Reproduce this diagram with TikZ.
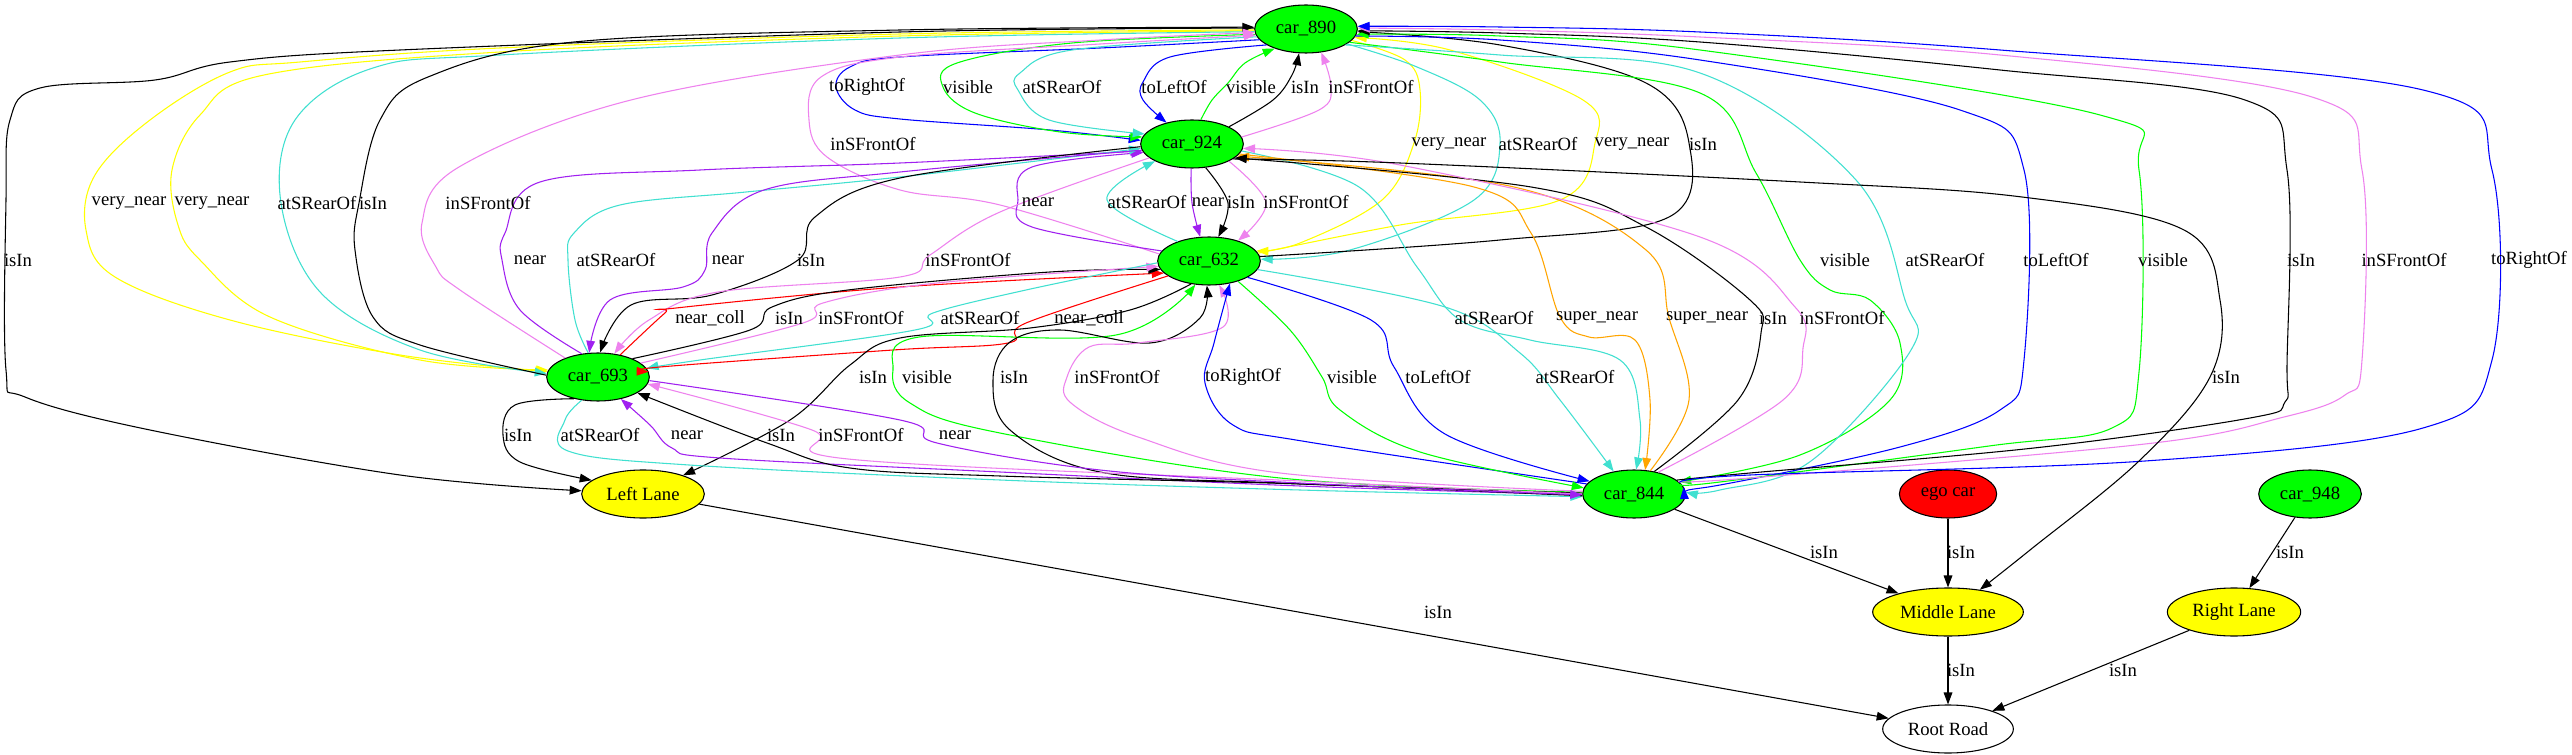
\documentclass[tikz,border=0pt]{standalone}
\usepackage{fontspec}
\setmainfont{Liberation Serif}
\usetikzlibrary{shapes.geometric,arrows.meta}
\definecolor{gvgreen}{HTML}{00FF00}
\definecolor{gvyellow}{HTML}{FFFF00}
\definecolor{gvred}{HTML}{FF0000}
\definecolor{gvviolet}{HTML}{EE82EE}
\definecolor{gvpurple}{HTML}{A020F0}
\definecolor{gvturq}{HTML}{40E0D0}
\definecolor{gvorange}{HTML}{FFA500}
\definecolor{gvblue}{HTML}{0000FF}
\newcommand\gvedge[2]{\draw[ed,#1] plot[smooth,tension=0.6] coordinates {#2};}
\begin{document}
\begin{tikzpicture}[x=0.75pt,y=-0.75pt,
  nd/.style={ellipse,draw=black,line width=0.8pt,inner sep=0pt,minimum height=36pt,font=\fontsize{14}{16}\selectfont},
  car/.style={nd,fill=gvgreen,minimum width=77pt},
  lane/.style={nd,fill=gvyellow},
  lbl/.style={inner sep=0pt,font=\fontsize{14}{16}\selectfont},
  ed/.style={line width=0.8pt,-{Triangle[length=9pt,width=6.5pt]}},
]
\fill[white] (0,0) rectangle (2572,755);
\useasboundingbox (0,0) rectangle (2572,755);

% nodes
\node[car] (n890) at (1306,29) {car\_890};
\node[car] (n924) at (1192,144) {car\_924};
\node[car] (n632) at (1209,261) {car\_632};
\node[car] (n693) at (598,377) {car\_693};
\node[lane,minimum width=92pt] (nLL) at (643,494) {Left Lane};
\node[car] (n844) at (1634,494) {car\_844};
\node[nd,fill=gvred,minimum width=73pt] (nego) at (1948,494) {ego car};
\node[car] (n948) at (2310,494) {car\_948};
\node[lane,minimum width=113pt] (nML) at (1948,612) {Middle Lane};
\node[lane,minimum width=100pt] (nRL) at (2234,612) {Right Lane};
\node[nd,fill=white,minimum width=98pt] (nRR) at (1948,729) {Root Road};

% 890 <-> 924
\gvedge{gvblue}{(n890.193) (1100,48) (900,57) (850,67) (836,87) (855,110) (900,119) (1050,130) (n924.176)}
\gvedge{gvgreen}{(n890.186) (1072,43) (957,63) (943,87) (975,113) (1060,132) (n924.172)}
\gvedge{gvturq}{(n890.189) (1072,50) (1020,73) (1018,90) (1049,120) (n924.168)}
\gvedge{gvblue}{(n890.202) (1170,57) (1143,82) (1143,100) (n924.140)}
\gvedge{gvgreen}{(n924.70) (1212,100) (1228,83) (1245,63) (n890.212)}
\gvedge{black}{(n924.25) (1273,100) (1292,75) (n890.254)}
\gvedge{gvviolet}{(n924.8) (1319,110) (1331,87) (n890.303)}

% 890 <-> 693
\gvedge{gvyellow}{(n890.181) (900,34) (500,48) (300,62) (230,72) (150,120) (95,175) (86,230) (115,277) (230,320) (400,355) (n693.174)}
\gvedge{gvyellow}{(n890.182) (900,36) (500,52) (264,75) (200,115) (172,170) (178,225) (200,260) (270,317) (420,360) (n693.172)}
\gvedge{gvturq}{(n890.183) (900,38) (500,55) (373,68) (295,120) (281,203) (321,293) (420,350) (n693.176)}
\gvedge{black}{(n693.178) (420,345) (373,317) (355,250) (359,203) (380,120) (428,77) (574,42) (900,30) (n890.178)}
\gvedge{gvviolet}{(n693.150) (460,290) (436,267) (422,223) (459,167) (631,100) (900,55) (1100,40) (n890.184)}
\gvedge{black}{(n890.179) (900,32) (400,50) (230,62) (155,80) (40,88) (10,120) (6,200) (6,370) (25,397) (150,430) (400,475) (nLL.177)}

% 890 <-> 632
\gvedge{gvviolet}{(n632.172) (1000,205) (900,190) (827,157) (809,120) (821,77) (900,57) (1100,44) (n890.187)}
\gvedge{gvyellow}{(n890.346) (1405,60) (1420,90) (1414,143) (1382,200) (1300,243) (n632.12)}
\gvedge{gvturq}{(n890.340) (1417,67) (1480,100) (1500,143) (1474,200) (1350,250) (n632.2)}
\gvedge{gvyellow}{(n632.9) (1400,225) (1560,200) (1595,143) (1583,100) (1450,50) (n890.350)}
\gvedge{black}{(n632.5) (1500,240) (1669,217) (1689,143) (1646,83) (1500,45) (n890.357)}

% 924 <-> 632
\gvedge{gvpurple}{(n632.168) (1032,227) (1018,200) (1032,167) (n924.190)}
\gvedge{gvturq}{(n632.148) (1107,200) (n924.205)}
\gvedge{gvpurple}{(n924.268) (1192,203) (n632.110)}
\gvedge{black}{(n924.300) (1228,203) (n632.69)}
\gvedge{gvviolet}{(n924.335) (1266,203) (n632.35)}

% 924 <-> 693
\gvedge{gvpurple}{(n693.125) (520,310) (502,260) (505,233) (540,182) (700,170) (900,163) (n924.188)}
\gvedge{gvturq}{(n693.112) (575,320) (568,260) (574,233) (620,205) (746,192) (900,177) (n924.185)}
\gvedge{gvpurple}{(n924.187) (900,172) (764,190) (712,233) (705,270) (683,287) (610,300) (n693.110)}
\gvedge{black}{(n924.183) (900,178) (815,217) (798,260) (712,295) (631,305) (n693.85)}
\gvedge{gvviolet}{(n924.198) (1000,212) (930,255) (900,277) (718,292) (649,320) (n693.55)}

% 632 <-> 693
\gvedge{gvred}{(n693.45) (665,313) (676,308) (900,287) (n632.195)}
\gvedge{black}{(n693.28) (750,330) (772,307) (848,290) (1050,272) (n632.190)}
\gvedge{gvviolet}{(n693.18) (803,323) (823,303) (937,283) (n632.186)}
\gvedge{gvturq}{(n632.182) (1026,290) (933,313) (915,330) (700,360) (n693.10)}
\gvedge{gvred}{(n632.200) (1026,323) (1008,343) (893,350) (660,367) (n693.6)}

% 632 <-> 844
\gvedge{gvgreen}{(n844.178) (1280,478) (995,432) (910,403) (893,370) (919,337) (1116,335) (n632.240)}
\gvedge{black}{(n844.179) (1280,483) (1100,472) (1010,430) (993,380) (1010,342) (1060,330) (1150,343) (1200,318) (n632.265)}
\gvedge{gvviolet}{(n844.177) (1280,473) (1138,437) (1071,403) (1067,377) (1089,347) (1138,343) (1223,327) (n632.293)}
\gvedge{gvblue}{(n844.168) (1302,441) (1233,425) (1205,383) (1214,343) (n632.313)}
\gvedge{gvgreen}{(n632.325) (1290,330) (1322,377) (1340,410) (1420,452) (n844.173)}
\gvedge{gvblue}{(n632.337) (1371,320) (1394,367) (1445,434) (n844.164)}
\gvedge{gvturq}{(n632.350) (1445,307) (1520,353) (1560,400) (n844.132)}

% 924 <-> 844
\gvedge{gvturq}{(n924.352) (1359,187) (1417,267) (1460,320) (1530,340) (1620,360) (1640,420) (n844.85)}
\gvedge{gvorange}{(n924.348) (1474,187) (1531,233) (1560,317) (1589,337) (1635,340) (1650,400) (n844.65)}
\gvedge{gvorange}{(n844.55) (1689,400) (1669,318) (1646,250) (1514,187) (n924.345)}
\gvedge{black}{(n844.48) (1738,400) (1761,333) (1750,300) (1646,227) (1531,187) (n924.342)}
\gvedge{gvviolet}{(n844.42) (1783,400) (1803,348) (1795,307) (1700,237) (1400,165) (n924.355)}

% 890 <-> 844
\gvedge{gvgreen}{(n890.343) (1500,62) (1700,93) (1756,173) (1800,260) (1830,290) (1870,300) (1900,343) (1890,400) (1800,455) (n844.15)}
\gvedge{gvturq}{(n890.338) (1500,55) (1700,73) (1856,180) (1905,300) (1911,350) (1811,461) (1720,490) (n844.2)}
\gvedge{gvblue}{(n890.352) (1500,40) (1700,60) (1960,110) (2024,170) (2024,360) (2000,410) (1900,447) (1720,485) (n844.8)}
\gvedge{gvgreen}{(n844.12) (1720,482) (1989,446) (2112,428) (2139,372) (2139,170) (2100,115) (1700,50) (1500,36) (n890.354)}
\gvedge{black}{(n844.18) (1750,473) (2034,448) (2250,418) (2285,402) (2287,365) (2287,170) (2245,100) (2000,70) (1700,42) (1500,33) (n890.358)}
\gvedge{gvviolet}{(n844.16) (1750,478) (2145,444) (2284,417) (2345,395) (2362,360) (2362,170) (2312,97) (2000,55) (1700,37) (1500,30) (n890.1)}
\gvedge{gvblue}{(n844.14) (1750,475) (2145,461) (2423,428) (2492,360) (2492,170) (2423,90) (2000,50) (1700,32) (1500,27) (n890.3)}

% 693 <-> 844 and lanes
\gvedge{black}{(n632.232) (1130,310) (1030,328) (900,338) (850,365) (790,420) (nLL.25)}
\gvedge{black}{(n924.340) (1400,163) (1800,182) (2022,197) (2184,230) (2220,300) (2210,377) (2139,461) (2030,550) (nML.35)}
\gvedge{black}{(n693.222) (515,405) (503,435) (520,462) (nLL.165)}
\gvedge{gvturq}{(n693.235) (565,420) (568,451) (689,465) (1000,480) (1300,490) (n844.183)}
\gvedge{gvpurple}{(n844.181) (1300,486) (1000,472) (720,458) (672,448) (650,425) (n693.316)}
\gvedge{black}{(n844.182) (1300,484) (1000,476) (850,468) (767,443) (n693.338)}
\gvedge{gvviolet}{(n844.180) (1300,481) (848,459) (812,430) (n693.352)}
\gvedge{gvpurple}{(n693.356) (900,420) (937,443) (1100,470) (1300,483) (n844.181)}

\draw[ed] (n844) -- (nML);
\draw[ed] (nego) -- (nML);
\draw[ed] (n948) -- (nRL);
\draw[ed] (nLL) -- (nRR);
\draw[ed] (nML) -- (nRR);
\draw[ed] (nRL) -- (nRR);

% labels
\node[lbl] (L1) at (867,87) {toRightOf};
\node[lbl] (L2) at (968,87) {visible};
\node[lbl] (L3) at (1062,87) {atSRearOf};
\node[lbl] (L4) at (1174,87) {toLeftOf};
\node[lbl] (L5) at (1251,87) {visible};
\node[lbl] (L6) at (1305,87) {isIn};
\node[lbl] (L7) at (1371,87) {inSFrontOf};
\node[lbl] (L8) at (873,144) {inSFrontOf};
\node[lbl] (L9) at (1449,144) {very\_near};
\node[lbl] (L10) at (1538,144) {atSRearOf};
\node[lbl] (L11) at (1632,144) {very\_near};
\node[lbl] (L12) at (1703,144) {isIn};
\node[lbl] (L13) at (129,203) {very\_near};
\node[lbl] (L14) at (212,203) {very\_near};
\node[lbl] (L15) at (317,203) {atSRearOf};
\node[lbl] (L16) at (373,203) {isIn};
\node[lbl] (L17) at (488,203) {inSFrontOf};
\node[lbl] (L18) at (1038,202) {near};
\node[lbl] (L19) at (1147,202) {atSRearOf};
\node[lbl] (L20) at (1208,202) {near};
\node[lbl] (L21) at (1241,202) {isIn};
\node[lbl] (L22) at (1306,202) {inSFrontOf};
\node[lbl] (L23) at (18,260) {isIn};
\node[lbl] (L24) at (530,260) {near};
\node[lbl] (L25) at (616,260) {atSRearOf};
\node[lbl] (L26) at (728,260) {near};
\node[lbl] (L27) at (811,260) {isIn};
\node[lbl] (L28) at (968,260) {inSFrontOf};
\node[lbl] (L29) at (1845,260) {visible};
\node[lbl] (L30) at (1945,260) {atSRearOf};
\node[lbl] (L31) at (2056,260) {toLeftOf};
\node[lbl] (L32) at (2163,260) {visible};
\node[lbl] (L33) at (2301,260) {isIn};
\node[lbl] (L34) at (2404,260) {inSFrontOf};
\node[lbl] (L35) at (2529,260) {toRightOf};
\node[lbl] (L36) at (710,318) {near\_coll};
\node[lbl] (L37) at (789,318) {isIn};
\node[lbl] (L38) at (861,318) {inSFrontOf};
\node[lbl] (L39) at (980,318) {atSRearOf};
\node[lbl] (L40) at (1089,318) {near\_coll};
\node[lbl] (L41) at (1494,318) {atSRearOf};
\node[lbl] (L42) at (1597,318) {super\_near};
\node[lbl] (L43) at (1707,318) {super\_near};
\node[lbl] (L44) at (1773,318) {isIn};
\node[lbl] (L45) at (1842,318) {inSFrontOf};
\node[lbl] (L46) at (873,377) {isIn};
\node[lbl] (L47) at (927,377) {visible};
\node[lbl] (L48) at (1014,377) {isIn};
\node[lbl] (L49) at (1117,377) {inSFrontOf};
\node[lbl] (L50) at (1243,377) {toRightOf};
\node[lbl] (L51) at (1352,377) {visible};
\node[lbl] (L52) at (1438,377) {toLeftOf};
\node[lbl] (L53) at (1575,377) {atSRearOf};
\node[lbl] (L54) at (2226,377) {isIn};
\node[lbl] (L55) at (518,435) {isIn};
\node[lbl] (L56) at (600,435) {atSRearOf};
\node[lbl] (L57) at (687,435) {near};
\node[lbl] (L58) at (781,435) {isIn};
\node[lbl] (L59) at (861,435) {inSFrontOf};
\node[lbl] (L60) at (955,435) {near};
\node[lbl] (L61) at (1824,552) {isIn};
\node[lbl] (L62) at (1961,552) {isIn};
\node[lbl] (L63) at (2290,552) {isIn};
\node[lbl] (L64) at (1438,612) {isIn};
\node[lbl] (L65) at (1961,670) {isIn};
\node[lbl] (L66) at (2123,670) {isIn};
\end{tikzpicture}
\end{document}
